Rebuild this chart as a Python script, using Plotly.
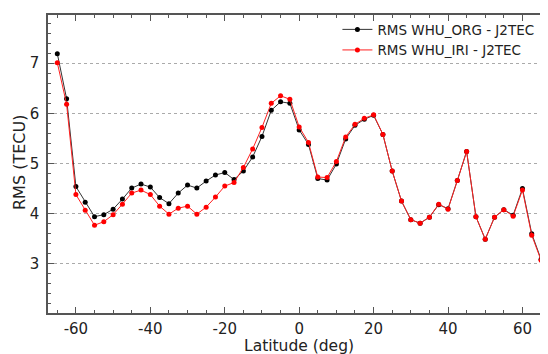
import plotly.graph_objects as go

lat = [-65 + 2.5 * i for i in range(53)]

rms_org = [7.19, 6.29, 4.54, 4.23, 3.94, 3.98, 4.09, 4.29, 4.51, 4.59,
           4.53, 4.32, 4.20, 4.41, 4.57, 4.51, 4.65, 4.77, 4.82, 4.68,
           4.85, 5.13, 5.54, 6.06, 6.23, 6.20, 5.67, 5.38, 4.70, 4.67,
           4.99, 5.49, 5.76, 5.88, 5.96, 5.58, 4.85, 4.25, 3.88, 3.81,
           3.93, 4.18, 4.10, 4.66, 5.24, 3.94, 3.49, 3.93, 4.08, 3.97,
           4.50, 3.60, 3.09]

rms_iri = [7.01, 6.18, 4.38, 4.07, 3.77, 3.84, 3.98, 4.19, 4.41, 4.47,
           4.38, 4.15, 3.99, 4.11, 4.15, 3.99, 4.13, 4.33, 4.55, 4.62,
           4.92, 5.29, 5.72, 6.20, 6.35, 6.28, 5.73, 5.42, 4.73, 4.72,
           5.04, 5.53, 5.78, 5.90, 5.97, 5.58, 4.85, 4.25, 3.88, 3.81,
           3.93, 4.19, 4.09, 4.66, 5.24, 3.94, 3.49, 3.93, 4.08, 3.95,
           4.47, 3.57, 3.07]

x_ticks = [-60, -40, -20, 0, 20, 40, 60]
x_tick_labels = ["-60", "-40", "-20", "0", "20", "40", "60"]
y_ticks = [3, 4, 5, 6, 7]
y_tick_labels = ["3", "4", "5", "6", "7"]

FONT = "DejaVu Sans"
TXT = "#222222"

fig = go.Figure()
fig.add_trace(go.Scatter(
    x=lat, y=rms_org, mode="lines+markers", name="RMS WHU_ORG - J2TEC",
    line=dict(color="#333333", width=1),
    marker=dict(color="#000000", size=5),
))
fig.add_trace(go.Scatter(
    x=lat, y=rms_iri, mode="lines+markers", name="RMS WHU_IRI - J2TEC",
    line=dict(color="#ff2020", width=1),
    marker=dict(color="#ff0000", size=5),
))

axis_common = dict(
    showline=True, linecolor="#555555", linewidth=1.5, mirror="ticks",
    ticks="inside", tickcolor="#555555", ticklen=6, tickwidth=1,
    tickfont=dict(family=FONT, size=15, color=TXT),
    zeroline=False, automargin=False,
)

fig.update_xaxes(
    range=[-67.5, 66.6], tickvals=x_ticks, ticktext=x_tick_labels, showgrid=False,
    ticklabelstandoff=1,
    minor=dict(tickmode="linear", tick0=0, dtick=5, ticks="inside", ticklen=3,
               tickcolor="#555555", showgrid=False),
    **axis_common,
)
fig.update_yaxes(
    range=[2.02, 7.96], tickvals=y_ticks, ticktext=y_tick_labels, showgrid=True,
    gridcolor="#aaaaaa", griddash="dot", gridwidth=1,
    ticklabelstandoff=4,
    minor=dict(tickmode="linear", tick0=2, dtick=0.2, ticks="inside", ticklen=3,
               tickcolor="#555555", showgrid=False),
    **axis_common,
)

fig.add_annotation(text="Latitude (deg)", xref="paper", yref="paper",
                   x=(299 - 48) / 499, y=-(345.5 - 313) / 298,
                   xanchor="center", yanchor="middle", showarrow=False,
                   font=dict(family=FONT, size=15.5, color=TXT))
fig.add_annotation(text="RMS (TECU)", xref="paper", yref="paper",
                   x=-(48 - 20) / 499, y=(313 - 163) / 298,
                   xanchor="center", yanchor="middle", showarrow=False, textangle=-90,
                   font=dict(family=FONT, size=16, color=TXT))

# The page body has an 8px margin, so the figure is sized to the visible area.
fig.update_layout(
    width=540, height=346,
    margin=dict(l=40, r=1, t=7, b=41),
    paper_bgcolor="white", plot_bgcolor="white",
    font=dict(family=FONT),
    legend=dict(x=0.58, y=1.003, xanchor="left", yanchor="top",
                bgcolor="rgba(0,0,0,0)",
                font=dict(family=FONT, size=13.5, color=TXT),
                tracegroupgap=0, itemwidth=30),
)

fig.write_html("out.html")
